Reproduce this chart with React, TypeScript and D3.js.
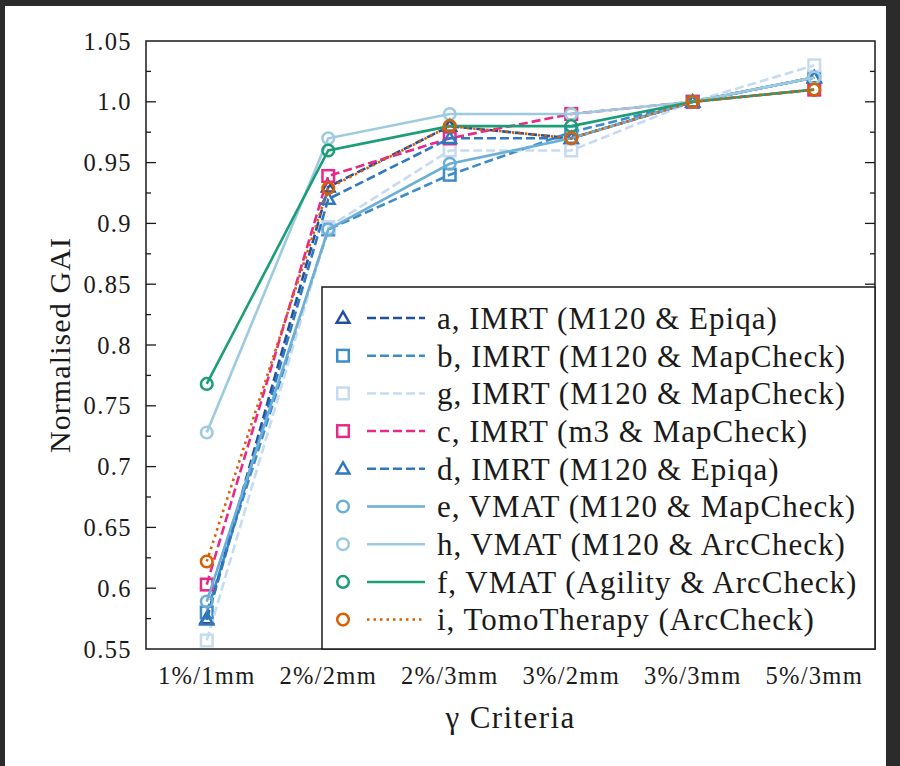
import React, { useRef, useEffect } from 'react';
import * as d3 from 'd3';

// gamma criteria on the x axis
const criteria = ['1%/1mm', '2%/2mm', '2%/3mm', '3%/2mm', '3%/3mm', '5%/3mm'];

// normalised GAI per plan
const imrtA = [0.575, 0.93, 0.98, 0.97, 1.0, 1.02];
const imrtB = [0.58, 0.895, 0.94, 0.975, 1.0, 1.02];
const imrtG = [0.557, 0.897, 0.96, 0.96, 1.0, 1.03];
const imrtC = [0.603, 0.939, 0.97, 0.99, 1.0, 1.01];
const imrtD = [0.574, 0.92, 0.97, 0.97, 1.0, 1.02];
const vmatE = [0.589, 0.895, 0.949, 0.97, 1.0, 1.02];
const vmatH = [0.728, 0.97, 0.99, 0.99, 1.0, 1.02];
const vmatF = [0.768, 0.96, 0.98, 0.98, 1.0, 1.01];
const tomoI = [0.622, 0.929, 0.98, 0.97, 1.0, 1.01];

const yTicks = [0.55, 0.6, 0.65, 0.7, 0.75, 0.8, 0.85, 0.9, 0.95, 1.0, 1.05];
const yTickLabels = ['0.55', '0.6', '0.65', '0.7', '0.75', '0.8', '0.85', '0.9', '0.95', '1.0', '1.05'];

const series = [
	{ label: 'a, IMRT (M120 & Epiqa)', values: imrtA, color: '#23509c', marker: 'triangle', dash: 'dashed' },
	{ label: 'b, IMRT (M120 & MapCheck)', values: imrtB, color: '#3c8ccc', marker: 'square', dash: 'dashed' },
	{ label: 'g, IMRT (M120 & MapCheck)', values: imrtG, color: '#c6dbef', marker: 'square', dash: 'dashed' },
	{ label: 'c, IMRT (m3 & MapCheck)', values: imrtC, color: '#e7298a', marker: 'square', dash: 'dashed' },
	{ label: 'd, IMRT (M120 & Epiqa)', values: imrtD, color: '#2f78c0', marker: 'triangle', dash: 'dashed' },
	{ label: 'e, VMAT (M120 & MapCheck)', values: vmatE, color: '#6baed6', marker: 'circle', dash: 'solid' },
	{ label: 'h, VMAT (M120 & ArcCheck)', values: vmatH, color: '#9ecae1', marker: 'circle', dash: 'solid' },
	{ label: 'f, VMAT (Agility & ArcCheck)', values: vmatF, color: '#1b9e77', marker: 'circle', dash: 'solid' },
	{ label: 'i, TomoTherapy (ArcCheck)', values: tomoI, color: '#d95f02', marker: 'circle', dash: 'dotted' },
];

const W = 900;
const H = 766;
const margin = { top: 41, right: 25, bottom: 117, left: 146 };
const font = '"Liberation Serif", "DejaVu Serif", serif';
const ink = '#1a1a1a';

const dashes = { dashed: '9,4', dotted: '2.5,4', solid: null };

const drawMarker = (g, kind, x, y, color) => {
	if (kind === 'circle') {
		g.append('circle').attr('cx', x).attr('cy', y).attr('r', 5.8)
			.attr('fill', 'none').attr('stroke', color).attr('stroke-width', 2.5);
	} else if (kind === 'square') {
		g.append('rect').attr('x', x - 5.8).attr('y', y - 5.8)
			.attr('width', 11.6).attr('height', 11.6)
			.attr('fill', 'none').attr('stroke', color).attr('stroke-width', 2.5);
	} else {
		const tri = d3.symbol().type(d3.symbolTriangle).size(70);
		g.append('path').attr('d', tri()).attr('transform', `translate(${ x },${ y + 1 })`)
			.attr('fill', 'none').attr('stroke', color).attr('stroke-width', 2.5);
	}
};

const renderChart = (ref) => {
	const svg = d3.select(ref.current);
	svg.selectAll('*').remove();

	const x = d3.scalePoint().domain(criteria).range([margin.left, W - margin.right]).padding(0.5);
	const y = d3.scaleLinear().domain([0.55, 1.05]).range([H - margin.bottom, margin.top]);
	const x0 = margin.left;
	const x1 = W - margin.right;
	const y0 = H - margin.bottom;
	const y1 = margin.top;

	// screenshot frame
	svg.append('rect').attr('width', W).attr('height', H).attr('fill', '#2b2b2b');
	svg.append('rect').attr('x', 5).attr('y', 6).attr('width', 881).attr('height', H - 6).attr('fill', '#fff');

	const plot = svg.append('g');
	const line = d3.line().x((d, i) => x(criteria[i])).y((d) => y(d));

	series.forEach((s) => {
		plot.append('path').datum(s.values).attr('d', line)
			.attr('fill', 'none').attr('stroke', s.color).attr('stroke-width', 2.6)
			.attr('stroke-dasharray', dashes[s.dash]);
		s.values.forEach((v, i) => drawMarker(plot, s.marker, x(criteria[i]), y(v), s.color));
	});

	// frame and inward ticks
	svg.append('rect').attr('x', x0).attr('y', y1).attr('width', x1 - x0).attr('height', y0 - y1)
		.attr('fill', 'none').attr('stroke', ink).attr('stroke-width', 1.5);

	const minor = d3.range(0.55, 1.0751, 0.025);
	minor.forEach((v) => {
		const isMajor = Math.abs(Math.round(v * 20) - v * 20) < 1e-6;
		const len = isMajor ? 10 : 5;
		if (y(v) >= y0 - 0.5 || y(v) <= y1 + 0.5) return;
		svg.append('line').attr('x1', x0).attr('x2', x0 + len).attr('y1', y(v)).attr('y2', y(v))
			.attr('stroke', ink).attr('stroke-width', 1.3);
		svg.append('line').attr('x1', x1).attr('x2', x1 - len).attr('y1', y(v)).attr('y2', y(v))
			.attr('stroke', ink).attr('stroke-width', 1.3);
	});

	yTicks.forEach((v, i) => {
		svg.append('text').attr('x', x0 - 14).attr('y', y(v)).attr('dy', '0.35em')
			.attr('text-anchor', 'end').attr('font-family', font).attr('font-size', 24.5)
			.attr('letter-spacing', 1.4).attr('fill', ink).text(yTickLabels[i]);
	});

	criteria.forEach((c) => {
		svg.append('text').attr('x', x(c)).attr('y', y0 + 35)
			.attr('text-anchor', 'middle').attr('font-family', font).attr('font-size', 24.5)
			.attr('letter-spacing', 1.3).attr('fill', ink).text(c);
	});

	svg.append('text').attr('x', (x0 + x1) / 2).attr('y', y0 + 79)
		.attr('text-anchor', 'middle').attr('font-family', font).attr('font-size', 31)
		.attr('letter-spacing', 1.4).attr('fill', ink).text('γ Criteria');

	svg.append('text').attr('transform', `translate(70,${ (y0 + y1) / 2 }) rotate(-90)`)
		.attr('text-anchor', 'middle').attr('font-family', font).attr('font-size', 30)
		.attr('letter-spacing', 1.1).attr('fill', ink).text('Normalised GAI');

	// legend
	const lx = 322;
	const ly = 287;
	const lg = svg.append('g');
	lg.append('rect').attr('x', lx).attr('y', ly).attr('width', x1 - lx).attr('height', y0 - ly)
		.attr('fill', '#fff').attr('stroke', ink).attr('stroke-width', 1.5);
	const rowH = 37.7;
	series.forEach((s, i) => {
		const ry = ly + 31 + i * rowH;
		drawMarker(lg, s.marker, lx + 21, ry, s.color);
		lg.append('line').attr('x1', lx + 45).attr('x2', lx + 103).attr('y1', ry).attr('y2', ry)
			.attr('stroke', s.color).attr('stroke-width', 2.5)
			.attr('stroke-dasharray', dashes[s.dash]);
		lg.append('text').attr('x', lx + 115).attr('y', ry)
			.attr('dy', '0.35em')
			.attr('font-family', font).attr('font-size', 31).attr('letter-spacing', 1.0)
			.attr('fill', ink).text(s.label);
	});
};

const App = () => {
	const ref = useRef(null);

	useEffect(() => {
		renderChart(ref);
	}, []);

	return (
		<svg ref={ ref } width={ W } height={ H }
			style={{ position: 'absolute', left: 0, top: 0, display: 'block' }}/>
	);
};

export default App;
